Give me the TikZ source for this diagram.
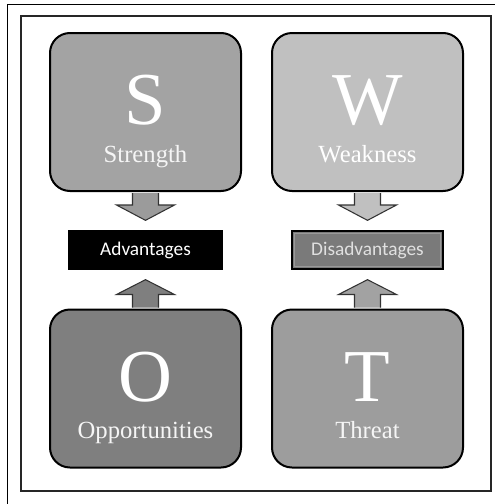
\documentclass[tikz,border=0pt]{standalone}
\usepackage{fontspec}
\newfontfamily\calibri{Carlito}
\newfontfamily\serifswot{Liberation Serif}
\usetikzlibrary{calc}

\definecolor{sgray}{RGB}{163,163,163}
\definecolor{wgray}{RGB}{192,192,192}
\definecolor{ogray}{RGB}{127,127,127}
\definecolor{tgray}{RGB}{157,157,157}
\definecolor{dgray}{RGB}{122,122,122}

\tikzset{
  swotbox/.style={draw=black, line width=1.5pt, rounded corners=15pt,
    minimum width=143.25pt, minimum height=118.5pt, inner sep=0pt},
  bigletter/.style={anchor=base, inner sep=0pt, text=white,
    font=\serifswot\fontsize{56}{60}\selectfont},
  boxname/.style={anchor=base, inner sep=0pt, text=white!96!black,
    font=\serifswot\fontsize{18.5}{20}\selectfont},
  resultbox/.style={draw=black, line width=1pt, minimum height=28.5pt,
    inner sep=0pt, font=\calibri\fontsize{14.5}{16}\selectfont},
  blockarrow/.style={draw=black!80, line width=0.8pt, line join=miter}
}

\begin{document}
\begin{tikzpicture}[x=0.75pt,y=0.75pt,yscale=-1,xscale=1]
\useasboundingbox (0,0) rectangle (495,504);

%frame
\draw [line width=0.6pt] (7,504) -- (7,4) -- (495,4) ;
\draw [line width=1.5pt, black!85] (21,16) rectangle (491,491) ;

%the four boxes
\node [swotbox, fill=sgray] (S) at (145.5,112) {};
\node [swotbox, fill=wgray] (W) at (367.5,112) {};
\node [swotbox, fill=ogray] (O) at (145.5,388.5) {};
\node [swotbox, fill=tgray] (T) at (367.5,388.5) {};

%letters and names
\node [bigletter] (Sl) at (145.5,124) {S};
\node [boxname] (Sn) at (145.5,162) {Strength};
\node [bigletter] (Wl) at (367.5,124) {W};
\node [boxname, text=white] (Wn) at (367.5,162) {Weakness};
\node [bigletter] (Ol) at (145.5,401) {O};
\node [boxname] (On) at (145.5,438) {Opportunities};
\node [bigletter] (Tl) at (367.5,401) {T};
\node [boxname] (Tn) at (367.5,438) {Threat};

%results
\node [resultbox, fill=black, text=white, minimum width=114.75pt] (adv) at (145.5,250) {Advantages};
\node [resultbox, fill=dgray, text=white!88!black, minimum width=113.25pt] (dis) at (367.5,250) {Disadvantages};
\draw [black!40, line width=0.8pt] ($(dis.north west)+(3,3)$) rectangle ($(dis.south east)+(-3,-3)$) ;

%down arrows
\draw [blockarrow, fill=sgray!95!black] ($(S.south)+(-13,1)$) -- ++(0,12) -- ++(-16,0) -- ($(adv.north)+(0,-10)$) -- ($(S.south)+(29,13)$) -- ++(-16,0) -- ++(0,-12) ;
\draw [blockarrow, fill=wgray] ($(W.south)+(-13,1)$) -- ++(0,12) -- ++(-16,0) -- ($(dis.north)+(0,-10)$) -- ($(W.south)+(29,13)$) -- ++(-16,0) -- ++(0,-12) ;

%up arrows
\draw [blockarrow, fill=ogray] ($(O.north)+(-13,-1)$) -- ++(0,-13) -- ++(-16,0) -- ($(adv.south)+(0,10)$) -- ($(O.north)+(29,-14)$) -- ++(-16,0) -- ++(0,13) ;
\draw [blockarrow, fill=tgray!95!white] ($(T.north)+(-13,-1)$) -- ++(0,-13) -- ++(-16,0) -- ($(dis.south)+(0,10)$) -- ($(T.north)+(29,-14)$) -- ++(-16,0) -- ++(0,13) ;

\end{tikzpicture}
\end{document}
